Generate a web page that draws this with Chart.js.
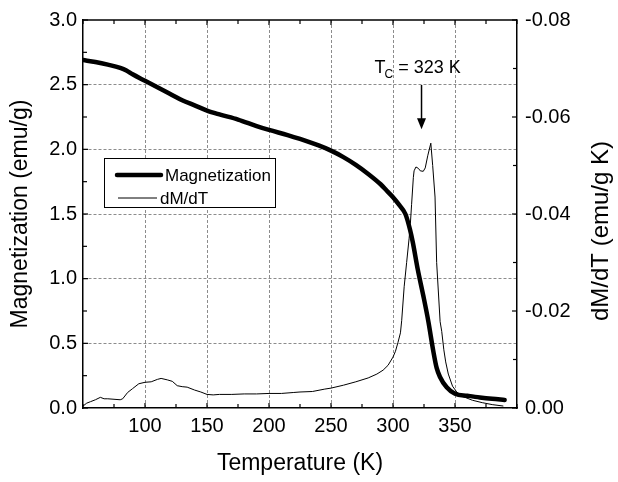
<!DOCTYPE html>
<html>
<head>
<meta charset="utf-8">
<script src="https://cdn.jsdelivr.net/npm/chart.js@4.4.0/dist/chart.umd.min.js"></script>
<style>
  html, body { margin: 0; padding: 0; background: #fff; }
  #wrap { width: 618px; height: 482px; position: relative; }
</style>
</head>
<body>
<div id="wrap"><canvas id="c" width="618" height="482"></canvas></div>
<script>
// ---- Data ----
const tempM = [50, 60, 70, 80, 85, 90, 100, 110, 120, 130, 140, 150, 160, 175, 190, 200, 215, 225, 240, 250, 260, 270, 280, 290, 295, 300, 305, 310, 313.7, 316, 320, 324.4, 328.5, 332.5, 335.2, 337.9, 343.3, 350, 360, 370, 380, 390];
const magM  = [2.69, 2.675, 2.655, 2.63, 2.61, 2.58, 2.53, 2.48, 2.43, 2.38, 2.34, 2.30, 2.27, 2.23, 2.18, 2.15, 2.11, 2.08, 2.03, 1.99, 1.94, 1.88, 1.81, 1.73, 1.68, 1.63, 1.57, 1.50, 1.38, 1.28, 1.07, 0.87, 0.67, 0.44, 0.31, 0.24, 0.16, 0.11, 0.095, 0.082, 0.071, 0.062];

const tempD = [50, 53, 56, 60, 64, 67, 70, 75, 80, 82, 86, 90, 95, 100, 105, 110, 113, 118, 122, 126, 130, 134, 140, 145, 150, 155, 160, 170, 180, 190, 200, 210, 220, 225, 235, 245, 250, 260, 270, 280, 287, 292, 296, 300, 302, 304, 306, 307, 309, 311, 313, 314, 315, 316.4, 317, 318.5, 320.5, 322, 324.4, 326, 328, 330.5, 332, 333.9, 335.2, 338, 339.3, 341, 342.5, 344.6, 348, 351.4, 356, 364, 372, 380, 389];
const dMdT  = [-0.0004, -0.0010, -0.0013, -0.0017, -0.0022, -0.0019, -0.0019, -0.0018, -0.0017, -0.0019, -0.0032, -0.0040, -0.0050, -0.0053, -0.0054, -0.0059, -0.0061, -0.0058, -0.0055, -0.0046, -0.0044, -0.0043, -0.0037, -0.0033, -0.0028, -0.0027, -0.0028, -0.0028, -0.0029, -0.0029, -0.0030, -0.0030, -0.0032, -0.0033, -0.0034, -0.0039, -0.0041, -0.0047, -0.0054, -0.0062, -0.0070, -0.0078, -0.0088, -0.0105, -0.0117, -0.0135, -0.0155, -0.0180, -0.0250, -0.0300, -0.0350, -0.0380, -0.0420, -0.0475, -0.0489, -0.0497, -0.0494, -0.0489, -0.0488, -0.0495, -0.0520, -0.0546, -0.0500, -0.0435, -0.0300, -0.0178, -0.0158, -0.0120, -0.0095, -0.0070, -0.0045, -0.0033, -0.0024, -0.0016, -0.0011, -0.0007, -0.0004];

const xTickLabels = ['100', '150', '200', '250', '300', '350'];
const yTickLabels = ['0.0', '0.5', '1.0', '1.5', '2.0', '2.5', '3.0'];
const y2TickLabels = ['0.00', '-0.02', '-0.04', '-0.06', '-0.08'];
const seriesLabels = ['Magnetization', 'dM/dT'];
const rightTitle = 'dM/dT (emu/g K)';
const tcValue = 323;
const tcLabel = ['T', 'C', ' = 323 K'];

const FONT = "'Liberation Sans', Arial, sans-serif";
const GRID = '#8c8c8c';

function isMajorX(v) { return Math.abs(v % 50) < 1e-6 && v >= 100 && v <= 350; }
function isMajorY(v) { return Math.abs(v * 2 - Math.round(v * 2)) < 1e-6; }
function isMajorY2(v) { return Math.round(Math.abs(v) * 100) % 2 === 0; }

// Inward tick marks, top frame, right title, legend and Tc annotation
const decorPlugin = {
  id: 'decor',
  afterDraw(chart) {
    const ctx = chart.ctx;
    const a = chart.chartArea;
    const xs = chart.scales.x, ys = chart.scales.y, y2 = chart.scales.y2;
    ctx.save();
    ctx.strokeStyle = '#000';
    ctx.lineWidth = 1.5;
    // top frame
    ctx.beginPath();
    ctx.moveTo(a.left, a.top); ctx.lineTo(a.right, a.top);
    ctx.stroke();
    ctx.lineWidth = 1.2;
    // x ticks (bottom & top)
    xs.ticks.forEach(t => {
      const px = xs.getPixelForValue(t.value);
      const len = isMajorX(t.value) ? 5 : 4;
      ctx.beginPath();
      ctx.moveTo(px, a.bottom); ctx.lineTo(px, a.bottom - len);
      ctx.moveTo(px, a.top); ctx.lineTo(px, a.top + len);
      ctx.stroke();
    });
    ys.ticks.forEach(t => {
      const py = ys.getPixelForValue(t.value);
      const len = isMajorY(t.value) ? 5 : 4;
      ctx.beginPath();
      ctx.moveTo(a.left, py); ctx.lineTo(a.left + len, py);
      ctx.stroke();
    });
    y2.ticks.forEach(t => {
      const py = y2.getPixelForValue(t.value);
      const len = isMajorY2(t.value) ? 5 : 4;
      ctx.beginPath();
      ctx.moveTo(a.right, py); ctx.lineTo(a.right - len, py);
      ctx.stroke();
    });

    // Right axis title (reads bottom-to-top)
    ctx.save();
    ctx.fillStyle = '#000';
    ctx.font = '24px ' + FONT;
    ctx.textAlign = 'center';
    ctx.textBaseline = 'middle';
    ctx.translate(y2.right - 17, (a.top + a.bottom) / 2 + 17);
    ctx.rotate(-Math.PI / 2);
    ctx.fillText(rightTitle, 0, 0);
    ctx.restore();

    // Legend
    const lx = a.left + 21, ly = a.top + 138, lw = 171, lh = 49;
    ctx.fillStyle = '#fff';
    ctx.fillRect(lx, ly, lw, lh);
    ctx.lineWidth = 1;
    ctx.strokeStyle = '#000';
    ctx.strokeRect(lx + 0.5, ly + 0.5, lw, lh);
    const dss = chart.data.datasets;
    ctx.font = '17px ' + FONT;
    ctx.fillStyle = '#000';
    ctx.textBaseline = 'middle';
    ctx.textAlign = 'left';
    const rows = [
      { y: ly + 17, x0: lx + 13, x1: lx + 57, tx: lx + 61 },
      { y: ly + 40, x0: lx + 14, x1: lx + 53, tx: lx + 56 }
    ];
    rows.forEach((r, i) => {
      ctx.beginPath();
      ctx.lineWidth = dss[i].borderWidth;
      ctx.lineCap = i === 0 ? 'round' : 'butt';
      ctx.moveTo(r.x0, r.y); ctx.lineTo(r.x1, r.y);
      ctx.stroke();
      ctx.fillText(dss[i].label, r.tx, r.y + 1);
    });

    // Tc annotation
    const ax = xs.getPixelForValue(tcValue);
    const yTextMid = y2.getPixelForValue(-0.0704);
    const yArrowTop = y2.getPixelForValue(-0.0666);
    const yArrowTip = y2.getPixelForValue(-0.0575);
    ctx.lineCap = 'butt';
    ctx.lineWidth = 1.5;
    ctx.beginPath();
    ctx.moveTo(ax, yArrowTop); ctx.lineTo(ax, yArrowTip - 8);
    ctx.stroke();
    ctx.beginPath();
    ctx.moveTo(ax - 4.5, yArrowTip - 11);
    ctx.lineTo(ax + 4.5, yArrowTip - 11);
    ctx.lineTo(ax, yArrowTip);
    ctx.closePath();
    ctx.fill();

    ctx.textBaseline = 'alphabetic';
    ctx.font = '18px ' + FONT;
    let tx = ax - 47;
    const base = yTextMid + 6.5;
    ctx.fillText(tcLabel[0], tx, base);
    tx += ctx.measureText(tcLabel[0]).width - 1;
    ctx.font = '12px ' + FONT;
    ctx.fillText(tcLabel[1], tx, base + 5);
    tx += ctx.measureText(tcLabel[1]).width;
    ctx.font = '18px ' + FONT;
    ctx.fillText(tcLabel[2], tx, base);
    ctx.restore();
  }
};

const ctx = document.getElementById('c').getContext('2d');
new Chart(ctx, {
  type: 'line',
  data: {
    datasets: [
      {
        label: seriesLabels[0],
        data: tempM.map((t, i) => ({ x: t, y: magM[i] })),
        yAxisID: 'y',
        borderColor: '#000',
        borderWidth: 4.5,
        pointRadius: 0,
        cubicInterpolationMode: 'monotone',
        borderCapStyle: 'round',
        fill: false
      },
      {
        label: seriesLabels[1],
        data: tempD.map((t, i) => ({ x: t, y: dMdT[i] })),
        yAxisID: 'y2',
        borderColor: '#000',
        borderWidth: 1,
        pointRadius: 0,
        tension: 0,
        fill: false
      }
    ]
  },
  options: {
    responsive: false,
    animation: false,
    devicePixelRatio: 1,
    layout: { padding: { top: 13, left: 0, right: 0, bottom: 0 } },
    plugins: { legend: { display: false }, tooltip: { enabled: false } },
    scales: {
      x: {
        type: 'linear',
        min: 50, max: 400,
        afterFit: s => { s.height = 74; },
        border: { display: true, color: '#000', width: 1.5, dash: [3, 2] },
        grid: {
          drawTicks: false,
          color: c => isMajorX(c.tick.value) ? GRID : 'rgba(0,0,0,0)',
          lineWidth: 1
        },
        ticks: {
          stepSize: 25,
          autoSkip: false,
          maxRotation: 0,
          padding: 6,
          color: '#000',
          font: { family: FONT, size: 20 },
          callback: v => isMajorX(v) ? xTickLabels[Math.round((v - 100) / 50)] : ''
        },
        title: {
          display: true,
          text: 'Temperature (K)',
          color: '#000',
          font: { family: FONT, size: 23 },
          padding: { top: 0, bottom: 5 }
        }
      },
      y: {
        type: 'linear',
        position: 'left',
        min: 0, max: 3,
        afterFit: s => { s.width = 83; },
        border: { display: true, color: '#000', width: 1.5, dash: [3, 2] },
        grid: {
          drawTicks: false,
          color: c => (isMajorY(c.tick.value) && c.tick.value > 0.01 && c.tick.value < 2.99) ? GRID : 'rgba(0,0,0,0)',
          lineWidth: 1
        },
        ticks: {
          stepSize: 0.25,
          autoSkip: false,
          padding: 6,
          color: '#000',
          font: { family: FONT, size: 20 },
          callback: v => isMajorY(v) ? yTickLabels[Math.round(v * 2)] : ''
        },
        title: {
          display: true,
          text: 'Magnetization (emu/g)',
          color: '#000',
          font: { family: FONT, size: 23 },
          padding: { top: 7, bottom: 0 }
        }
      },
      y2: {
        type: 'linear',
        position: 'right',
        min: -0.08, max: 0,
        reverse: true,
        afterFit: s => { s.width = 101; },
        border: { display: true, color: '#000', width: 1.5 },
        grid: { display: true, drawOnChartArea: false, drawTicks: false },
        ticks: {
          stepSize: 0.01,
          autoSkip: false,
          padding: 8,
          color: '#000',
          font: { family: FONT, size: 20 },
          callback: v => isMajorY2(v) ? y2TickLabels[Math.round(Math.abs(v) * 50)] : ''
        },
        title: { display: false }
      }
    }
  },
  plugins: [decorPlugin]
});
</script>
</body>
</html>
